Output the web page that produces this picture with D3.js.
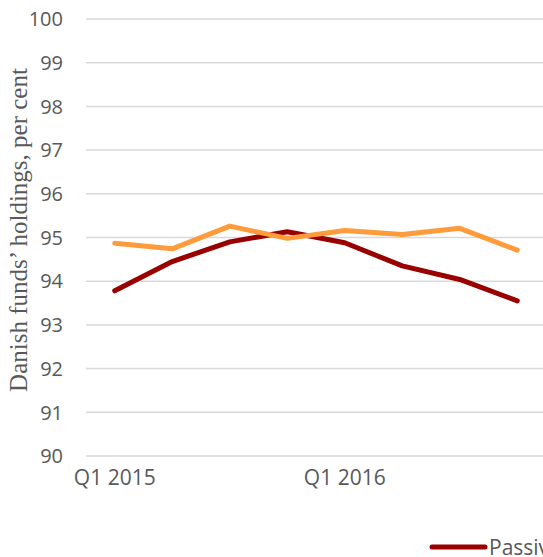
<!DOCTYPE html>
<html>
<head>
<meta charset="utf-8">
<script src="https://cdnjs.cloudflare.com/ajax/libs/d3/7.8.5/d3.min.js"></script>
<style>
body{margin:0;background:#fff;}
svg{display:block;}
</style>
</head>
<body>
<div id="graph"></div>
<script>
var width=543;
var height=557;

// data
var quarters=['Q1 2015','Q2 2015','Q3 2015','Q4 2015','Q1 2016','Q2 2016','Q3 2016','Q4 2016'];
var tickLabels=['Q1 2015','Q1 2016'];
var passive=[93.78,94.45,94.90,95.13,94.88,94.35,94.04,93.55];
var active=[94.87,94.74,95.26,94.98,95.16,95.07,95.21,94.71];
var yTicks=[90,91,92,93,94,95,96,97,98,99,100];
var seriesNames=['Passive','Active'];
var seriesColors=['#990000','#ff9b3a'];

var svg=d3.select('#graph').append('svg').attr('width',width).attr('height',height);

var plotLeft=86, plotW=460, plotTop=19, plotBottom=456;
var labelFont='"Open Sans", "Liberation Sans", sans-serif';

var x=d3.scalePoint().domain(quarters).range([plotLeft,plotLeft+plotW]).padding(0.5);
var y=d3.scaleLinear().domain([90,100]).range([plotBottom,plotTop]);

// gridlines
svg.append('g').selectAll('line').data(yTicks).enter().append('line')
	.attr('x1',plotLeft).attr('x2',plotLeft+plotW)
	.attr('y1',function(d){return y(d);}).attr('y2',function(d){return y(d);})
	.style('stroke','#d9d9d9').style('stroke-width',1.5);

// y tick labels
svg.append('g').selectAll('text').data(yTicks).enter().append('text')
	.attr('x',63).attr('y',function(d){return y(d);}).attr('dy','0.36em')
	.attr('text-anchor','end')
	.style('font-family',labelFont)
	.style('font-size','20px').style('fill','#595959')
	.text(function(d){return d;});

// x tick labels
svg.append('g').selectAll('text').data(tickLabels).enter().append('text')
	.attr('x',function(d){return x(d);}).attr('y',485)
	.attr('text-anchor','middle')
	.style('font-family',labelFont)
	.style('font-size','21px').style('fill','#595959')
	.text(function(d){return d;});

// axis title
svg.append('text')
	.attr('transform','translate(27,230) rotate(-90)')
	.attr('text-anchor','middle')
	.style('font-family','"Liberation Serif", "DejaVu Serif", serif')
	.style('font-size','25px').style('fill','#595959')
	.text('Danish funds\u2019 holdings, per cent');

var line=d3.line().x(function(d,i){return x(quarters[i]);}).y(function(d){return y(d);});

[passive,active].forEach(function(s,k){
	svg.append('path').datum(s).attr('d',line)
		.style('fill','none').style('stroke',seriesColors[k])
		.style('stroke-width',5).style('stroke-linecap','round').style('stroke-linejoin','round');
});

// legend
var lg=svg.append('g').selectAll('g').data(seriesNames).enter().append('g')
	.attr('transform',function(d,i){return 'translate('+(432+i*150)+',547)';});
lg.append('line').attr('x1',0).attr('x2',53).attr('y1',0).attr('y2',0)
	.style('stroke',function(d,i){return seriesColors[i];})
	.style('stroke-width',5).style('stroke-linecap','round');
lg.append('text').attr('x',57).attr('dy','0.36em')
	.style('font-family',labelFont)
	.style('font-size','21px').style('fill','#595959')
	.text(function(d){return d;});
</script>
</body>
</html>
